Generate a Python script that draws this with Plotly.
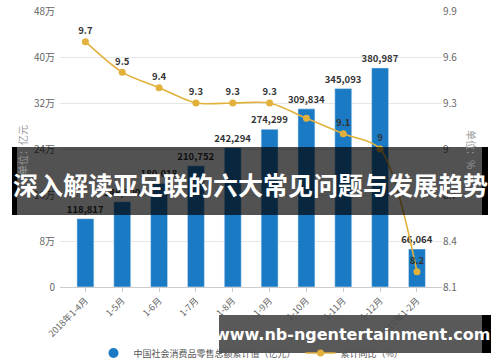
import plotly.graph_objects as go

categories = ["2018年1-4月", "1-5月", "1-6月", "1-7月", "1-8月", "1-9月",
              "1-10月", "1-11月", "1-12月", "2019年1-2月"]
retail_total = [118817, 148300, 180018, 210752, 242294, 274299,
                309834, 345093, 380987, 66064]
yoy_growth = [9.7, 9.5, 9.4, 9.3, 9.3, 9.3, 9.2, 9.1, 9.0, 8.2]
yoy_labels = ["9.7", "9.5", "9.4", "9.3", "9.3", "9.3", "", "9.1", "9", "8.2"]
left_tickvals = [0, 80000, 160000, 240000, 320000, 400000, 480000]
left_ticktext = ["0", "8万", "16万", "24万", "32万", "40万", "48万"]
right_tickvals = [8.1, 8.4, 8.7, 9.0, 9.3, 9.6, 9.9]
right_ticktext = ["8.1", "8.4", "8.7", "9", "9.3", "9.6", "9.9"]

title_text = "深入解读亚足联的六大常见问题与发展趋势"
url_text = "www.nb-ngentertainment.com"

CJK = "Noto Sans CJK SC"
BLUE = "#1a7bc4"
GOLD = "#e2b13c"

x_idx = list(range(len(categories)))

fig = go.Figure()
fig.add_trace(go.Bar(
    x=x_idx, y=retail_total, width=0.46, marker_color=BLUE,
    text=[f"{v:,}" for v in retail_total], textposition="outside",
    constraintext="none",
    textfont=dict(family=CJK, size=9.5, color="#333333", weight="bold"),
    cliponaxis=False, showlegend=False, yaxis="y",
))
# legend stand-in for bars (circle symbol like reference)
fig.add_trace(go.Scatter(
    x=[None], y=[None], mode="markers", name="中国社会消费品零售总额累计值（亿元）",
    marker=dict(color=BLUE, size=10, symbol="circle"),
))
fig.add_trace(go.Scatter(
    x=x_idx, y=yoy_growth, yaxis="y2", mode="lines+markers+text",
    name="累计同比（%）",
    line=dict(color=GOLD, width=1.6, shape="spline", smoothing=0.8),
    marker=dict(color=GOLD, size=7),
    text=yoy_labels, textposition="top center",
    textfont=dict(family=CJK, size=9.5, color="#333333", weight="bold"),
    cliponaxis=False,
))

# page pixel -> paper coordinates (plot area spans x 60..442, y 11..287)
def px(x):
    return (x - 60) / 382.0

def py(y):
    return (287 - y) / 276.0

shapes = [
    dict(type="rect", xref="paper", yref="paper", x0=px(17), x1=px(482), y0=py(215), y1=py(147),
         fillcolor="rgba(0,0,0,0.68)", line=dict(width=0), layer="above"),
    dict(type="rect", xref="paper", yref="paper", x0=px(12), x1=px(17), y0=py(215), y1=py(147),
         fillcolor="#000000", line=dict(width=0), layer="above"),
    dict(type="rect", xref="paper", yref="paper", x0=px(482), x1=px(488), y0=py(215), y1=py(147),
         fillcolor="#000000", line=dict(width=0), layer="above"),
    dict(type="rect", xref="paper", yref="paper", x0=px(219), x1=px(482), y0=py(353), y1=py(315),
         fillcolor="rgba(75,75,75,0.92)", line=dict(width=0), layer="above"),
    dict(type="rect", xref="paper", yref="paper", x0=px(482), x1=px(491), y0=py(353), y1=py(315),
         fillcolor="#000000", line=dict(width=0), layer="above"),
]

annotations = [
    dict(text=title_text, xref="paper", yref="paper", x=px(250), y=py(184),
         showarrow=False, font=dict(family=CJK, size=25, color="white", weight="bold"),
         xanchor="center", yanchor="middle"),
    dict(text=url_text, xref="paper", yref="paper", x=px(352), y=py(334),
         showarrow=False, font=dict(family="DejaVu Sans", size=16, color="white", weight="bold"),
         xanchor="center", yanchor="middle"),
    dict(text="单位：亿元", xref="paper", yref="paper", x=px(22), y=py(150),
         showarrow=False, textangle=-90, font=dict(family=CJK, size=10, color="#999999"),
         xanchor="center", yanchor="middle"),
    dict(text="单位：%", xref="paper", yref="paper", x=px(472), y=py(150),
         showarrow=False, textangle=90, font=dict(family=CJK, size=10, color="#999999"),
         xanchor="center", yanchor="middle"),
]

fig.update_layout(
    width=500, height=362,
    margin=dict(l=60, r=58, t=11, b=75, autoexpand=False),
    paper_bgcolor="white", plot_bgcolor="white",
    font=dict(family=CJK, color="#666666"),
    xaxis=dict(
        range=[-0.69, 9.68], tickvals=x_idx, ticktext=categories, tickangle=-45,
        tickfont=dict(family=CJK, size=9, color="#666666"),
        showline=True, linecolor="#cccccc", linewidth=1,
        ticks="outside", ticklen=4, tickcolor="#cccccc",
        showgrid=False, zeroline=False, ticklabeloverflow="allow",
    ),
    yaxis=dict(
        range=[0, 480000], tickvals=left_tickvals, ticktext=left_ticktext,
        tickfont=dict(family=CJK, size=10, color="#666666"),
        showgrid=True, gridcolor="#e6e6e6", gridwidth=1, zeroline=False,
        ticks="", ticklabelstandoff=4, ticklabeloverflow="allow",
    ),
    yaxis2=dict(
        range=[8.1, 9.9], tickvals=right_tickvals, ticktext=right_ticktext,
        overlaying="y", side="right",
        tickfont=dict(family=CJK, size=10, color="#666666"),
        showgrid=False, zeroline=False, ticks="", ticklabeloverflow="allow",
    ),
    legend=dict(
        orientation="h", x=0.5, xanchor="center", y=py(353), yanchor="middle",
        font=dict(family=CJK, size=9, color="#555555"), bgcolor="rgba(0,0,0,0)",
        itemwidth=30,
    ),
    shapes=shapes,
    annotations=annotations,
)

# remove the browser's default body margin so the figure sits at the window's corner
fig.write_html("out.html", config={"displayModeBar": False},
               post_script="document.body.style.margin='0px';")
